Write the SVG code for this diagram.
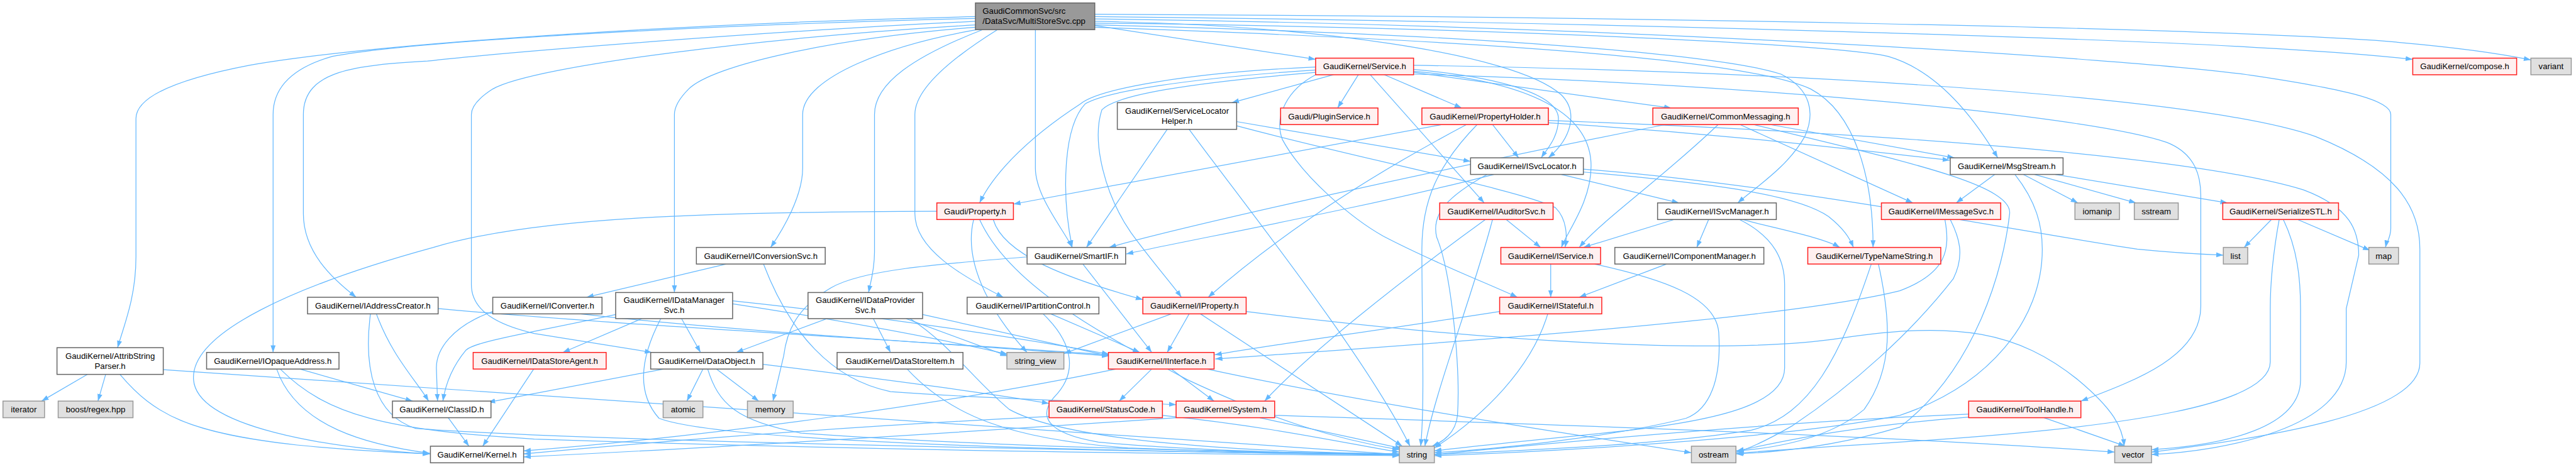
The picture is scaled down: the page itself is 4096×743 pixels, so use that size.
<svg xmlns="http://www.w3.org/2000/svg" width="4096" height="743" viewBox="0 0 4096 743">
<defs>
<marker id="ah" viewBox="0 0 10 7" refX="10" refY="3.5" markerWidth="12" markerHeight="10" orient="auto" markerUnits="userSpaceOnUse"><path d="M0,0 L10,3.5 L0,7 z" fill="#63b8ff"/></marker>
<style>
.e path{fill:none;stroke:#63b8ff;stroke-width:1.3;marker-end:url(#ah)}
rect{stroke-width:1.6}
.w rect{fill:#ffffff;stroke:#666666}
.r rect{fill:#fff0f0;stroke:#ff2020}
.x rect{fill:#e0e0e0;stroke:#999999}
.m rect{fill:#999999;stroke:#666666}
text{font-family:"Liberation Sans",Arial,sans-serif;font-size:14px;fill:#000;text-anchor:middle}
.m text{text-anchor:start}
</style>
</defs>
<rect width="4096" height="743" fill="#ffffff"/>
<g transform="scale(0.944)">
<g id="edges" class="e">
<path d="M1643,28 C1200,38 650,70 420,110 C290,135 229,165 229,200 L229,433 C229,500 210,545 198,586"/>
<path d="M1643,31 C1200,42 700,68 560,95 C490,115 460,150 460,193 L460,594"/>
<path d="M1643,36 C1300,52 850,88 720,103 C600,110 511,118 511,193 L511,360 C511,425 560,470 600,501"/>
<path d="M1643,42 C1300,62 900,110 830,150 C805,166 794,180 794,193 L794,480 C794,525 840,548 900,562 L1098,594"/>
<path d="M1643,46 C1400,65 1200,110 1160,150 C1142,168 1136,182 1136,193 L1136,493"/>
<path d="M1646,50 C1500,75 1352,130 1352,193 L1352,283 C1352,330 1320,385 1298,417"/>
<path d="M1655,50 C1540,95 1473,140 1473,193 L1473,425 C1473,455 1466,478 1463,493"/>
<path d="M1680,50 C1600,100 1541,150 1541,193 L1541,360 C1541,420 1620,465 1690,501"/>
<path d="M1744,50 L1744,283 C1744,330 1790,385 1806,417"/>
<path d="M1844,43 L2216,100"/>
<path d="M1844,24 C2800,28 3700,48 4000,68 C4150,80 4220,92 4263,101"/>
<path d="M1844,28 C2800,38 3600,68 3800,80 C3950,88 4010,94 4064,100"/>
<path d="M1844,32 C2700,42 3600,98 3800,128 C3960,152 4027,170 4027,193 L4027,385 C4027,400 4020,408 4018,417"/>
<path d="M1844,36 C2200,42 2550,88 2630,160 C2658,188 2648,232 2608,266"/>
<path d="M1844,39 C2500,46 3100,75 3180,95 C3260,118 3320,190 3365,266"/>
<path d="M1844,42 C2500,58 2900,92 3000,125 C3050,150 3058,190 3040,230 C3012,280 2962,312 2927,342"/>
<path d="M1844,46 C2600,72 2950,105 3050,150 C3125,190 3155,300 3155,417"/>
<path d="M2288,126 L2253,182"/>
<path d="M2332,126 L2462,182"/>
<path d="M2381,122 L2815,182"/>
<path d="M2246,126 L2075,173"/>
<path d="M2216,113 C2000,122 1850,150 1820,175 C1720,240 1670,300 1650,342"/>
<path d="M2216,118 C2000,132 1860,155 1828,175 C1790,215 1788,330 1806,417"/>
<path d="M2216,122 C2000,140 1880,160 1856,185 C1838,240 1862,330 1905,392 C1940,440 1975,480 1990,501"/>
<path d="M2308,126 L2500,342"/>
<path d="M2381,117 C2530,130 2625,160 2625,200 C2625,232 2605,252 2596,266"/>
<path d="M2381,120 C2600,140 2680,200 2680,280 C2680,340 2640,390 2630,417"/>
<path d="M2216,126 C2170,150 2145,195 2160,235 C2195,300 2280,370 2330,398 C2420,445 2500,475 2556,501"/>
<path d="M2381,125 C2900,140 3500,190 3650,240 C3700,260 3707,300 3707,330 L3707,516 C3707,600 3600,640 3505,676"/>
<path d="M2381,110 C3000,120 3700,160 3900,230 C4050,290 4076,360 4076,420 L4076,612 C4076,700 3800,740 3624,762"/>
<path d="M2083,205 L2477,272"/>
<path d="M2083,212 C2300,270 2560,320 2620,350 C2640,370 2640,400 2636,417"/>
<path d="M1966,218 L1830,417"/>
<path d="M2003,218 C2100,350 2300,600 2375,752"/>
<path d="M2429,210 L1707,344"/>
<path d="M2514,210 L2558,266"/>
<path d="M2470,210 C2300,300 2150,400 2035,501"/>
<path d="M2488,210 C2420,280 2395,340 2395,420 C2395,550 2400,680 2393,752"/>
<path d="M2608,207 C2900,225 3100,250 3284,270"/>
<path d="M2608,203 C3200,225 3700,265 3880,320 C3960,350 3973,390 3973,430 L3952,520 L3952,610 C3952,720 3750,760 3624,766"/>
<path d="M2982,210 L3292,266"/>
<path d="M2805,210 C2400,290 2000,380 1868,417"/>
<path d="M2931,210 L3222,342"/>
<path d="M2894,210 C2800,300 2700,370 2660,417"/>
<path d="M2954,210 C3200,270 3390,310 3385,360 C3375,450 3330,620 3200,720 C3100,750 3000,762 2924,765"/>
<path d="M2516,294 C2300,350 2000,405 1897,428"/>
<path d="M2505,294 C2440,330 2410,360 2420,400 C2445,460 2460,620 2455,700 C2452,730 2430,745 2412,752"/>
<path d="M2630,294 L2828,342"/>
<path d="M2667,285 C3000,310 3400,390 3600,420 C3680,428 3720,429 3745,430"/>
<path d="M2667,290 C2900,310 3030,330 3080,365 C3105,385 3115,400 3122,417"/>
<path d="M2537,370 L2595,417"/>
<path d="M2514,370 C2480,500 2420,650 2400,752"/>
<path d="M2502,370 C2350,480 2200,600 2130,676"/>
<path d="M2878,370 L2858,417"/>
<path d="M2935,370 C2990,385 3070,400 3099,417"/>
<path d="M2820,370 L2667,417"/>
<path d="M2930,370 C2990,400 3006,440 3006,480 L3006,620 C3006,680 2900,710 2700,730 C2550,745 2450,755 2416,760"/>
<path d="M2807,445 L2660,501"/>
<path d="M2612,445 L2612,501"/>
<path d="M2686,445 C2800,470 2890,500 2895,560 C2900,640 2880,690 2840,705 C2700,740 2500,758 2416,763"/>
<path d="M2526,525 C2300,560 2150,580 2046,598"/>
<path d="M2607,529 C2580,620 2500,700 2416,755"/>
<path d="M3276,370 C3285,420 3280,460 3200,490 C3000,540 2400,580 2047,605"/>
<path d="M3285,370 C3300,400 3310,430 3290,470 C3220,560 3120,650 3020,717 C2980,740 2950,755 2925,762"/>
<path d="M3360,294 L3295,342"/>
<path d="M3408,294 L3500,342"/>
<path d="M3427,294 L3598,342"/>
<path d="M3462,294 L3752,342"/>
<path d="M3394,294 C3430,340 3440,380 3440,420 C3440,540 3350,650 3200,700 C3000,740 2600,762 2416,768"/>
<path d="M3152,445 C3100,600 3050,700 2950,725 C2800,750 2550,760 2416,766"/>
<path d="M3164,445 C3185,540 3190,620 3140,690 C3080,740 2990,755 2925,760"/>
<path d="M3826,370 L3780,417"/>
<path d="M3870,370 L3992,422"/>
<path d="M3846,370 C3870,420 3875,470 3875,520 L3875,640 C3875,720 3750,750 3624,758"/>
<path d="M3839,370 C3830,420 3824,470 3824,520 L3824,610 C3824,680 3600,720 3200,745 C3050,755 2970,760 2925,764"/>
<path d="M3443,704 L3580,752"/>
<path d="M3316,703 C3100,720 3000,745 2925,760"/>
<path d="M3316,698 C3000,710 2600,748 2416,766"/>
<path d="M1578,356 C1200,357 900,365 730,417 C500,480 320,560 326,640 C332,720 550,755 724,765"/>
<path d="M1640,370 C1620,450 1680,540 1730,594"/>
<path d="M1673,370 C1690,430 1800,470 1925,505"/>
<path d="M1650,370 C1700,480 1850,560 2000,640 C2150,710 2250,740 2357,758"/>
<path d="M1824,445 L1940,594"/>
<path d="M1730,433 C1580,445 1450,455 1400,485 C1340,520 1325,560 1320,600 L1302,676"/>
<path d="M1770,529 L1920,594"/>
<path d="M1757,529 C1810,580 1815,630 1775,670 C1750,700 1760,730 1850,745 C2000,760 2250,765 2357,767"/>
<path d="M1973,529 L1792,596"/>
<path d="M2003,529 L1966,594"/>
<path d="M2022,529 L2362,752"/>
<path d="M2099,525 C2500,575 2900,600 3100,570 C3300,540 3400,560 3500,640 C3560,690 3575,720 3578,752"/>
<path d="M1880,622 C1600,680 1200,735 882,760"/>
<path d="M1940,622 L1885,676"/>
<path d="M1973,622 L2045,676"/>
<path d="M2033,622 C2300,680 2700,740 2849,763"/>
<path d="M1767,702 C1400,720 1100,745 882,765"/>
<path d="M1958,700 C2150,720 2280,750 2357,762"/>
<path d="M1981,704 C1600,730 1200,755 882,770"/>
<path d="M2122,704 L2362,756"/>
<path d="M2147,700 C2600,715 3200,735 3562,762"/>
<path d="M1118,622 L822,678"/>
<path d="M1184,622 L1157,676"/>
<path d="M1207,622 L1278,676"/>
<path d="M1192,622 C1210,680 1240,710 1350,730 C1700,755 2100,762 2357,765"/>
<path d="M1285,614 C1500,640 1700,668 1767,680"/>
<path d="M1037,530 C900,560 800,575 785,590 C760,620 750,650 746,676"/>
<path d="M1081,537 L948,594"/>
<path d="M1148,537 L1180,594"/>
<path d="M1113,537 C1080,600 1070,660 1110,705 C1200,740 1700,760 2357,766"/>
<path d="M1234,507 C1500,535 1750,575 1868,597"/>
<path d="M1234,512 C1450,545 1600,575 1697,597"/>
<path d="M1393,537 L1240,594"/>
<path d="M1471,537 L1500,594"/>
<path d="M1526,537 L1697,600"/>
<path d="M1533,537 C1600,580 1640,640 1700,690 C1800,745 2100,762 2357,765"/>
<path d="M1554,530 L1868,600"/>
<path d="M1528,622 C1600,700 1700,740 1900,755 C2100,763 2250,765 2357,766"/>
<path d="M634,529 C660,600 700,640 722,676"/>
<path d="M738,520 C1000,545 1500,572 1868,598"/>
<path d="M624,529 C612,620 630,700 700,722 C1000,745 2000,762 2357,767"/>
<path d="M1223,445 L988,501"/>
<path d="M1286,445 C1330,560 1400,640 1500,660 C1700,675 1900,678 1981,682"/>
<path d="M830,525 C760,550 735,590 735,620 L737,676"/>
<path d="M978,529 C1200,555 1600,580 1868,600"/>
<path d="M899,622 L813,752"/>
<path d="M755,704 L790,752"/>
<path d="M505,622 L695,676"/>
<path d="M466,622 C500,720 620,750 724,764"/>
<path d="M472,622 C550,700 650,725 900,740 C1500,760 2000,765 2357,768"/>
<path d="M147,631 L70,676"/>
<path d="M178,631 L165,676"/>
<path d="M202,631 C260,700 320,730 500,750 C600,760 680,763 724,765"/>
<path d="M275,623 L2357,766"/>
</g>
<g id="n_main" class="m"><rect x="1643" y="5" width="201" height="45"/><text x="1655" y="23">GaudiCommonSvc/src</text><text x="1655" y="40">/DataSvc/MultiStoreSvc.cpp</text></g>
<g id="n_service" class="r"><rect x="2216" y="98" width="165" height="28"/><text x="2298.5" y="117">GaudiKernel/Service.h</text></g>
<g id="n_compose" class="r"><rect x="4064" y="98" width="175" height="28"/><text x="4151.5" y="117">GaudiKernel/compose.h</text></g>
<g id="n_variant" class="x"><rect x="4263" y="98" width="68" height="28"/><text x="4297" y="117">variant</text></g>
<g id="n_slh" class="w"><rect x="1882" y="173" width="201" height="45"/><text x="1982.5" y="192">GaudiKernel/ServiceLocator</text><text x="1982.5" y="209">Helper.h</text></g>
<g id="n_plugin" class="r"><rect x="2157" y="182" width="164" height="28"/><text x="2239" y="201">Gaudi/PluginService.h</text></g>
<g id="n_propholder" class="r"><rect x="2395" y="182" width="213" height="28"/><text x="2501.5" y="201">GaudiKernel/PropertyHolder.h</text></g>
<g id="n_commonmsg" class="r"><rect x="2784" y="182" width="245" height="28"/><text x="2906.5" y="201">GaudiKernel/CommonMessaging.h</text></g>
<g id="n_isvclocator" class="w"><rect x="2477" y="266" width="190" height="28"/><text x="2572" y="285">GaudiKernel/ISvcLocator.h</text></g>
<g id="n_msgstream" class="w"><rect x="3285" y="266" width="190" height="28"/><text x="3380" y="285">GaudiKernel/MsgStream.h</text></g>
<g id="n_property" class="r"><rect x="1578" y="342" width="129" height="28"/><text x="1642.5" y="361">Gaudi/Property.h</text></g>
<g id="n_iauditorsvc" class="r"><rect x="2425" y="342" width="191" height="28"/><text x="2520.5" y="361">GaudiKernel/IAuditorSvc.h</text></g>
<g id="n_isvcmanager" class="w"><rect x="2792" y="342" width="200" height="28"/><text x="2892" y="361">GaudiKernel/ISvcManager.h</text></g>
<g id="n_imessagesvc" class="r"><rect x="3169" y="342" width="201" height="28"/><text x="3269.5" y="361">GaudiKernel/IMessageSvc.h</text></g>
<g id="n_iomanip" class="x"><rect x="3495" y="342" width="75" height="28"/><text x="3532.5" y="361">iomanip</text></g>
<g id="n_sstream" class="x"><rect x="3595" y="342" width="74" height="28"/><text x="3632" y="361">sstream</text></g>
<g id="n_serializestl" class="r"><rect x="3744" y="342" width="195" height="28"/><text x="3841.5" y="361">GaudiKernel/SerializeSTL.h</text></g>
<g id="n_iconversionsvc" class="w"><rect x="1173" y="417" width="217" height="28"/><text x="1281.5" y="436">GaudiKernel/IConversionSvc.h</text></g>
<g id="n_smartif" class="w"><rect x="1730" y="417" width="166" height="28"/><text x="1813" y="436">GaudiKernel/SmartIF.h</text></g>
<g id="n_iservice" class="r"><rect x="2528" y="417" width="168" height="28"/><text x="2612" y="436">GaudiKernel/IService.h</text></g>
<g id="n_icompmgr" class="w"><rect x="2720" y="417" width="251" height="28"/><text x="2845.5" y="436">GaudiKernel/IComponentManager.h</text></g>
<g id="n_typename" class="r"><rect x="3045" y="417" width="224" height="28"/><text x="3157" y="436">GaudiKernel/TypeNameString.h</text></g>
<g id="n_list" class="x"><rect x="3745" y="417" width="41" height="28"/><text x="3765.5" y="436">list</text></g>
<g id="n_map" class="x"><rect x="3990" y="417" width="50" height="28"/><text x="4015" y="436">map</text></g>
<g id="n_iconverter" class="w"><rect x="830" y="501" width="184" height="28"/><text x="922" y="520">GaudiKernel/IConverter.h</text></g>
<g id="n_idatamgr" class="w"><rect x="1037" y="493" width="197" height="44"/><text x="1135.5" y="511">GaudiKernel/IDataManager</text><text x="1135.5" y="528">Svc.h</text></g>
<g id="n_idataprov" class="w"><rect x="1361" y="493" width="193" height="44"/><text x="1457.5" y="511">GaudiKernel/IDataProvider</text><text x="1457.5" y="528">Svc.h</text></g>
<g id="n_ipartition" class="w"><rect x="1629" y="501" width="222" height="28"/><text x="1740" y="520">GaudiKernel/IPartitionControl.h</text></g>
<g id="n_iproperty" class="r"><rect x="1925" y="501" width="174" height="28"/><text x="2012" y="520">GaudiKernel/IProperty.h</text></g>
<g id="n_istateful" class="r"><rect x="2526" y="501" width="172" height="28"/><text x="2612" y="520">GaudiKernel/IStateful.h</text></g>
<g id="n_iaddrcreator" class="w"><rect x="518" y="501" width="220" height="28"/><text x="628" y="520">GaudiKernel/IAddressCreator.h</text></g>
<g id="n_attrib" class="w"><rect x="96" y="586" width="179" height="45"/><text x="185.5" y="605">GaudiKernel/AttribString</text><text x="185.5" y="622">Parser.h</text></g>
<g id="n_iopaque" class="w"><rect x="348" y="594" width="223" height="28"/><text x="459.5" y="613">GaudiKernel/IOpaqueAddress.h</text></g>
<g id="n_idatastoreagent" class="r"><rect x="797" y="594" width="224" height="28"/><text x="909" y="613">GaudiKernel/IDataStoreAgent.h</text></g>
<g id="n_dataobject" class="w"><rect x="1096" y="594" width="189" height="28"/><text x="1190.5" y="613">GaudiKernel/DataObject.h</text></g>
<g id="n_datastoreitem" class="w"><rect x="1410" y="594" width="212" height="28"/><text x="1516" y="613">GaudiKernel/DataStoreItem.h</text></g>
<g id="n_string_view" class="x"><rect x="1696" y="594" width="96" height="28"/><text x="1744" y="613">string_view</text></g>
<g id="n_iinterface" class="r"><rect x="1867" y="594" width="178" height="28"/><text x="1956" y="613">GaudiKernel/IInterface.h</text></g>
<g id="n_iterator" class="x"><rect x="5" y="676" width="70" height="28"/><text x="40" y="695">iterator</text></g>
<g id="n_regex" class="x"><rect x="98" y="676" width="126" height="28"/><text x="161" y="695">boost/regex.hpp</text></g>
<g id="n_classid" class="w"><rect x="661" y="676" width="166" height="28"/><text x="744" y="695">GaudiKernel/ClassID.h</text></g>
<g id="n_atomic" class="x"><rect x="1117" y="676" width="67" height="28"/><text x="1150.5" y="695">atomic</text></g>
<g id="n_memory" class="x"><rect x="1259" y="676" width="77" height="28"/><text x="1297.5" y="695">memory</text></g>
<g id="n_statuscode" class="r"><rect x="1767" y="676" width="191" height="28"/><text x="1862.5" y="695">GaudiKernel/StatusCode.h</text></g>
<g id="n_system" class="r"><rect x="1981" y="676" width="166" height="28"/><text x="2064" y="695">GaudiKernel/System.h</text></g>
<g id="n_toolhandle" class="r"><rect x="3316" y="676" width="189" height="28"/><text x="3410.5" y="695">GaudiKernel/ToolHandle.h</text></g>
<g id="n_kernel" class="w"><rect x="725" y="752" width="157" height="28"/><text x="803.5" y="771">GaudiKernel/Kernel.h</text></g>
<g id="n_string" class="x"><rect x="2357" y="752" width="59" height="28"/><text x="2386.5" y="771">string</text></g>
<g id="n_ostream" class="x"><rect x="2849" y="752" width="75" height="28"/><text x="2886.5" y="771">ostream</text></g>
<g id="n_vector" class="x"><rect x="3562" y="752" width="62" height="28"/><text x="3593" y="771">vector</text></g>
</g>
</svg>
